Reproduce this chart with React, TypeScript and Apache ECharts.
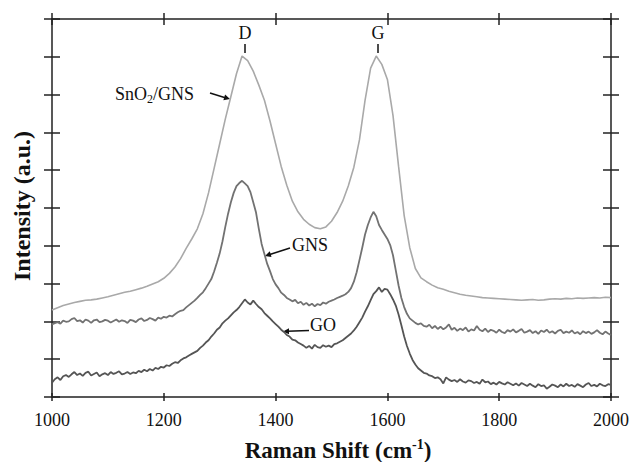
import React, { useEffect, useRef } from 'react';
import * as echarts from 'echarts';

// SnO2/GNS spectrum, sampled every 10 cm-1
const wavenumbers10 = [
  1000, 1010, 1020, 1030, 1040, 1050, 1060, 1070, 1080, 1090,
  1100, 1110, 1120, 1130, 1140, 1150, 1160, 1170, 1180, 1190,
  1200, 1210, 1220, 1230, 1240, 1250, 1260, 1270, 1280, 1290,
  1300, 1310, 1320, 1330, 1340, 1350, 1360, 1370, 1380, 1390,
  1400, 1410, 1420, 1430, 1440, 1450, 1460, 1470, 1480, 1490,
  1500, 1510, 1520, 1530, 1540, 1550, 1560, 1570, 1580, 1590,
  1600, 1610, 1620, 1630, 1640, 1650, 1660, 1670, 1680, 1690,
  1700, 1710, 1720, 1730, 1740, 1750, 1760, 1770, 1780, 1790,
  1800, 1810, 1820, 1830, 1840, 1850, 1860, 1870, 1880, 1890,
  1900, 1910, 1920, 1930, 1940, 1950, 1960, 1970, 1980, 1990,
  2000,
];

const sno2Gns = [
  2.30, 2.36, 2.42, 2.46, 2.50, 2.53, 2.56, 2.57, 2.59, 2.62,
  2.65, 2.69, 2.73, 2.77, 2.80, 2.84, 2.88, 2.93, 2.99, 3.05,
  3.14, 3.27, 3.44, 3.66, 3.93, 4.18, 4.45, 4.85, 5.40, 6.05,
  6.70, 7.35, 7.95, 8.55, 9.02, 8.90, 8.62, 8.25, 7.85, 7.30,
  6.70, 6.10, 5.60, 5.18, 4.90, 4.70, 4.57, 4.48, 4.45, 4.50,
  4.65, 4.88, 5.18, 5.58, 6.08, 6.80, 7.85, 8.70, 9.02, 8.80,
  8.40, 7.45, 6.10, 4.80, 3.95, 3.40, 3.15, 3.05, 2.96, 2.89,
  2.85, 2.80, 2.76, 2.72, 2.69, 2.67, 2.65, 2.63, 2.62, 2.61,
  2.60, 2.59, 2.58, 2.57, 2.56, 2.57, 2.58, 2.56, 2.57, 2.59,
  2.60, 2.59, 2.61, 2.60, 2.62, 2.61, 2.62, 2.63, 2.62, 2.64,
  2.63,
];

// GNS and GO spectra, sampled every 5 cm-1
const wavenumbers5 = [
  1000, 1005, 1010, 1015, 1020, 1025, 1030, 1035, 1040, 1045, 1050, 1055, 1060, 1065, 1070, 1075, 1080, 1085, 1090, 1095,
  1100, 1105, 1110, 1115, 1120, 1125, 1130, 1135, 1140, 1145, 1150, 1155, 1160, 1165, 1170, 1175, 1180, 1185, 1190, 1195,
  1200, 1205, 1210, 1215, 1220, 1225, 1230, 1235, 1240, 1245, 1250, 1255, 1260, 1265, 1270, 1275, 1280, 1285, 1290, 1295,
  1300, 1305, 1310, 1315, 1320, 1325, 1330, 1335, 1340, 1345, 1350, 1355, 1360, 1365, 1370, 1375, 1380, 1385, 1390, 1395,
  1400, 1405, 1410, 1415, 1420, 1425, 1430, 1435, 1440, 1445, 1450, 1455, 1460, 1465, 1470, 1475, 1480, 1485, 1490, 1495,
  1500, 1505, 1510, 1515, 1520, 1525, 1530, 1535, 1540, 1545, 1550, 1555, 1560, 1565, 1570, 1575, 1580, 1585, 1590, 1595,
  1600, 1605, 1610, 1615, 1620, 1625, 1630, 1635, 1640, 1645, 1650, 1655, 1660, 1665, 1670, 1675, 1680, 1685, 1690, 1695,
  1700, 1705, 1710, 1715, 1720, 1725, 1730, 1735, 1740, 1745, 1750, 1755, 1760, 1765, 1770, 1775, 1780, 1785, 1790, 1795,
  1800, 1805, 1810, 1815, 1820, 1825, 1830, 1835, 1840, 1845, 1850, 1855, 1860, 1865, 1870, 1875, 1880, 1885, 1890, 1895,
  1900, 1905, 1910, 1915, 1920, 1925, 1930, 1935, 1940, 1945, 1950, 1955, 1960, 1965, 1970, 1975, 1980, 1985, 1990, 1995,
  2000,
];

const gns = [
  1.92, 1.95, 1.98, 1.94, 2.02, 1.99, 2.00, 2.06, 2.09, 2.01, 2.03, 1.97, 2.05, 2.02, 1.96, 2.03, 2.05, 1.98, 2.00, 2.04,
  2.02, 1.97, 2.01, 2.05, 1.99, 2.03, 2.01, 1.96, 2.04, 2.02, 1.98, 2.05, 2.08, 2.01, 2.04, 2.09, 2.06, 2.02, 2.10, 2.07,
  2.12, 2.10, 2.15, 2.13, 2.19, 2.24, 2.28, 2.30, 2.37, 2.43, 2.49, 2.55, 2.62, 2.70, 2.77, 2.88, 3.00, 3.12, 3.32, 3.55,
  3.80, 4.12, 4.50, 4.85, 5.15, 5.40, 5.58, 5.66, 5.72, 5.65, 5.58, 5.42, 5.15, 4.88, 4.45, 4.05, 3.78, 3.52, 3.33, 3.12,
  2.98, 2.88, 2.76, 2.70, 2.62, 2.58, 2.53, 2.57, 2.48, 2.52, 2.44, 2.49, 2.42, 2.47, 2.40, 2.46, 2.43, 2.50, 2.47, 2.52,
  2.55, 2.58, 2.62, 2.65, 2.68, 2.72, 2.78, 2.88, 3.05, 3.30, 3.62, 3.95, 4.30, 4.55, 4.75, 4.90, 4.78, 4.55, 4.42, 4.30,
  4.18, 4.02, 3.75, 3.35, 2.95, 2.62, 2.38, 2.20, 2.08, 2.02, 1.96, 1.92, 1.95, 1.88, 1.86, 1.91, 1.82, 1.88, 1.80, 1.86,
  1.79, 1.84, 1.92, 1.78, 1.83, 1.75, 1.81, 1.77, 1.84, 1.73, 1.79, 1.76, 1.88, 1.78, 1.74, 1.81, 1.72, 1.78, 1.75, 1.70,
  1.78, 1.72, 1.69, 1.77, 1.73, 1.79, 1.71, 1.75, 1.80, 1.70, 1.73, 1.77, 1.69, 1.74, 1.67, 1.76, 1.72, 1.78, 1.70, 1.74,
  1.68, 1.75, 1.78, 1.69, 1.73, 1.70, 1.76, 1.68, 1.72, 1.66, 1.74, 1.69, 1.73, 1.67, 1.71, 1.77, 1.70, 1.66, 1.73, 1.68,
  1.64,
];

const go = [
  0.38, 0.47, 0.52, 0.45, 0.55, 0.58, 0.53, 0.60, 0.66, 0.58, 0.62, 0.56, 0.64, 0.67, 0.57, 0.61, 0.65, 0.55, 0.60, 0.63,
  0.58, 0.66, 0.61, 0.64, 0.68, 0.60, 0.62, 0.66, 0.61, 0.65, 0.63, 0.69, 0.66, 0.72, 0.68, 0.74, 0.70, 0.77, 0.74, 0.80,
  0.78, 0.84, 0.82, 0.88, 0.92, 0.90, 0.97, 1.02, 1.05, 1.10, 1.14, 1.18, 1.22, 1.30, 1.36, 1.44, 1.50, 1.60, 1.68, 1.78,
  1.84, 1.95, 2.02, 2.08, 2.16, 2.24, 2.30, 2.38, 2.48, 2.58, 2.50, 2.45, 2.55, 2.46, 2.38, 2.32, 2.22, 2.15, 2.08, 2.00,
  1.93, 1.86, 1.78, 1.72, 1.64, 1.60, 1.52, 1.50, 1.44, 1.40, 1.36, 1.30, 1.35, 1.28, 1.38, 1.32, 1.30, 1.37, 1.33, 1.36,
  1.32, 1.40, 1.42, 1.46, 1.50, 1.56, 1.62, 1.68, 1.76, 1.86, 1.98, 2.10, 2.26, 2.40, 2.56, 2.72, 2.80, 2.90, 2.78, 2.86,
  2.84, 2.72, 2.58, 2.42, 2.18, 1.90, 1.60, 1.35, 1.15, 0.98, 0.86, 0.76, 0.70, 0.64, 0.62, 0.57, 0.55, 0.50, 0.52, 0.47,
  0.36, 0.52, 0.46, 0.42, 0.45, 0.40, 0.47, 0.41, 0.38, 0.44, 0.42, 0.37, 0.40, 0.35, 0.46, 0.39, 0.41, 0.34, 0.38, 0.33,
  0.40, 0.36, 0.33, 0.39, 0.35, 0.31, 0.36, 0.30, 0.37, 0.33, 0.29, 0.35, 0.30, 0.26, 0.34, 0.29, 0.31, 0.22, 0.27, 0.33,
  0.30, 0.26, 0.33, 0.28, 0.35, 0.29, 0.32, 0.27, 0.34, 0.30, 0.26, 0.33, 0.37, 0.29, 0.32, 0.28, 0.35, 0.31, 0.29, 0.34,
  0.32,
];

const FONT = 'Liberation Serif, Times New Roman, serif';
const AXIS_COLOR = '#222';

function pairs(xs: number[], ys: number[]) {
  return xs.map((x, i) => [x, ys[i]]);
}

export default function App() {
  const ref = useRef<HTMLDivElement>(null);

  useEffect(() => {
    if (!ref.current) return;
    const chart = echarts.init(ref.current, null, { renderer: 'svg' });

    const lineStyle = { color: AXIS_COLOR, width: 1.5 };

    const arrowHead = (tip: number[], a: number[], b: number[]) => ({
      type: 'polygon',
      shape: { points: [tip, a, b] },
      style: { fill: '#111' },
    });

    chart.setOption({
      animation: false,
      backgroundColor: '#fff',
      grid: {
        left: 52, right: 18.5, top: 19, bottom: 65, containLabel: false,
        show: true, borderColor: AXIS_COLOR, borderWidth: 1.5, backgroundColor: 'transparent',
      },
      xAxis: [
        {
          type: 'value', min: 1000, max: 2000, interval: 200,
          position: 'bottom', offset: -4,
          splitLine: { show: false },
          axisLine: { show: false, onZero: false },
          axisTick: { show: true, inside: false, length: 8, lineStyle },
          axisLabel: {
            show: true, margin: 18, fontSize: 18, fontFamily: FONT, color: '#111',
            formatter: (v: number) => String(v),
          },
        },
        {
          type: 'value', min: 1000, max: 2000, interval: 200,
          position: 'top', offset: -6,
          splitLine: { show: false },
          axisLine: { show: false, onZero: false },
          axisTick: { show: true, inside: false, length: 12, lineStyle },
          axisLabel: { show: false },
        },
      ],
      yAxis: [
        {
          type: 'value', min: 0, max: 10, interval: 1,
          position: 'left', offset: -8,
          splitLine: { show: false },
          axisLine: { show: false, onZero: false },
          axisTick: { show: true, inside: false, length: 16, lineStyle },
          axisLabel: { show: false },
        },
        {
          type: 'value', min: 0, max: 10, interval: 1,
          position: 'right', offset: -8,
          splitLine: { show: false },
          axisLine: { show: false, onZero: false },
          axisTick: { show: true, inside: false, length: 16, lineStyle },
          axisLabel: { show: false },
        },
      ],
      series: [
        {
          name: 'SnO2/GNS', type: 'line', xAxisIndex: 0, yAxisIndex: 0,
          data: pairs(wavenumbers10, sno2Gns),
          showSymbol: false, symbol: 'none',
          lineStyle: { color: '#a9a9a9', width: 1.6 },
        },
        {
          name: 'GNS', type: 'line', xAxisIndex: 0, yAxisIndex: 0,
          data: pairs(wavenumbers5, gns),
          showSymbol: false, symbol: 'none',
          lineStyle: { color: '#727272', width: 1.8 },
        },
        {
          name: 'GO', type: 'line', xAxisIndex: 0, yAxisIndex: 0,
          data: pairs(wavenumbers5, go),
          showSymbol: false, symbol: 'none',
          lineStyle: { color: '#555555', width: 1.8 },
        },
      ],
      graphic: [
        {
          type: 'text', x: 245, y: 33,
          style: { text: 'D', fontSize: 18, fontFamily: FONT, fill: '#111', align: 'center', verticalAlign: 'middle' },
        },
        { type: 'line', shape: { x1: 245, y1: 44, x2: 245, y2: 53 }, style: { stroke: '#111', lineWidth: 1.5 } },
        {
          type: 'text', x: 378, y: 33,
          style: { text: 'G', fontSize: 18, fontFamily: FONT, fill: '#111', align: 'center', verticalAlign: 'middle' },
        },
        { type: 'line', shape: { x1: 378, y1: 44, x2: 378, y2: 53 }, style: { stroke: '#111', lineWidth: 1.5 } },
        {
          type: 'text', x: 115, y: 94,
          style: {
            text: '{a|SnO}{b|2}{a|/GNS}',
            align: 'left', verticalAlign: 'middle', fill: '#111',
            rich: {
              a: { fontSize: 18, fontFamily: FONT, fill: '#111' },
              b: { fontSize: 12, fontFamily: FONT, fill: '#111', padding: [10, 0, 0, 0] },
            },
          },
        },
        { type: 'line', shape: { x1: 210, y1: 93, x2: 226, y2: 98 }, style: { stroke: '#111', lineWidth: 1.5 } },
        arrowHead([230, 99], [223.4, 100.2], [225.1, 94.4]),
        {
          type: 'text', x: 292, y: 245,
          style: { text: 'GNS', fontSize: 18, fontFamily: FONT, fill: '#111', align: 'left', verticalAlign: 'middle' },
        },
        { type: 'line', shape: { x1: 290, y1: 248, x2: 269, y2: 254.7 }, style: { stroke: '#111', lineWidth: 1.5 } },
        arrowHead([265, 256], [269.8, 251.3], [271.6, 257.1]),
        {
          type: 'text', x: 310, y: 325,
          style: { text: 'GO', fontSize: 18, fontFamily: FONT, fill: '#111', align: 'left', verticalAlign: 'middle' },
        },
        { type: 'line', shape: { x1: 309, y1: 330.5, x2: 287, y2: 331.3 }, style: { stroke: '#111', lineWidth: 1.5 } },
        arrowHead([283, 331.5], [289, 328.3], [289, 334.3]),
        {
          type: 'text', x: 338, y: 450,
          style: {
            text: '{a|Raman Shift (cm}{s|-1}{a|)}',
            align: 'center', verticalAlign: 'middle', fill: '#111',
            rich: {
              a: { fontSize: 23, fontWeight: 'bold', fontFamily: FONT, fill: '#111' },
              s: { fontSize: 14, fontWeight: 'bold', fontFamily: FONT, fill: '#111', padding: [0, 0, 12, 0] },
            },
          },
        },
        {
          type: 'text', x: 22, y: 206, rotation: Math.PI / 2,
          style: {
            text: 'Intensity (a.u.)', fontSize: 24, fontWeight: 'bold', fontFamily: FONT,
            fill: '#111', align: 'center', verticalAlign: 'middle',
          },
        },
      ],
    });

    return () => chart.dispose();
  }, []);

  return (
    <div
      ref={ref}
      style={{ position: 'absolute', left: 0, top: 0, width: 632, height: 462 }}
    />
  );
}
